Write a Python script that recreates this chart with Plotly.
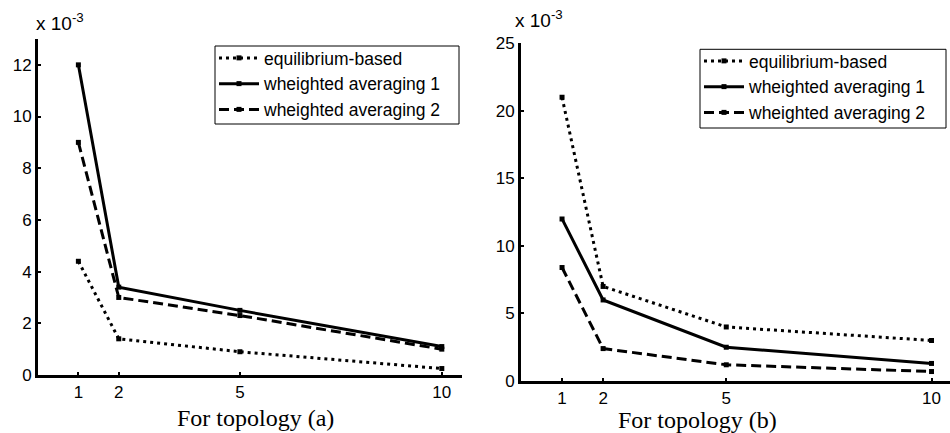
import plotly.graph_objects as go

# ---- data ----
x_vals = [1, 2, 5, 10]
x_ticks = [1, 2, 5, 10]

# topology (a)  (values x 10^-3)
a_equilibrium = [4.4, 1.4, 0.9, 0.25]
a_weighted1 = [12.0, 3.4, 2.5, 1.1]
a_weighted2 = [9.0, 3.0, 2.3, 1.0]

# topology (b)  (values x 10^-3)
b_equilibrium = [21.0, 7.0, 4.0, 3.0]
b_weighted1 = [12.0, 6.0, 2.5, 1.3]
b_weighted2 = [8.4, 2.4, 1.2, 0.7]

series_names = ["equilibrium-based", "wheighted averaging 1", "wheighted averaging 2"]
y_ticks_a = [0, 2, 4, 6, 8, 10, 12]
y_ticks_b = [0, 5, 10, 15, 20, 25]

dashes = ["3px,4px", "solid", "10px,5px"]

fig = go.Figure()

for i, (name, ys) in enumerate(zip(series_names, [a_equilibrium, a_weighted1, a_weighted2])):
    fig.add_trace(go.Scatter(
        x=x_vals, y=ys, name=name, mode="lines+markers",
        line=dict(color="black", width=3, dash=dashes[i]),
        marker=dict(symbol="square", size=5, color="black"),
        xaxis="x", yaxis="y", legend="legend",
    ))

for i, (name, ys) in enumerate(zip(series_names, [b_equilibrium, b_weighted1, b_weighted2])):
    fig.add_trace(go.Scatter(
        x=x_vals, y=ys, name=name, mode="lines+markers",
        line=dict(color="black", width=3, dash=dashes[i]),
        marker=dict(symbol="square", size=5, color="black"),
        xaxis="x2", yaxis="y2", legend="legend2",
    ))

axis_common = dict(
    showgrid=False, zeroline=False, showline=True, linecolor="black", linewidth=3,
    ticks="inside", ticklen=3, tickwidth=2, tickcolor="black",
    tickfont=dict(family="Liberation Sans, Arial, sans-serif", size=17, color="black"),
    automargin=False,
)

legend_common = dict(
    bgcolor="rgba(0,0,0,0)", borderwidth=0,
    font=dict(family="Liberation Sans, Arial, sans-serif", size=17.5, color="black"),
    xanchor="left", yanchor="top", tracegroupgap=0, itemwidth=40,
)

def px_x(p):
    return p / 950

def px_y(p):
    return 1 - p / 433

fig.update_layout(
    width=950, height=433,
    margin=dict(l=0, r=0, t=0, b=0),
    template="none",
    paper_bgcolor="white", plot_bgcolor="white",
    showlegend=True,
    xaxis=dict(domain=[px_x(38), px_x(462)], range=[0, 10.5], tickvals=x_ticks,
               anchor="y", **axis_common),
    yaxis=dict(domain=[px_y(375), px_y(39)], range=[0, 13], tickvals=y_ticks_a,
               anchor="x", **axis_common),
    xaxis2=dict(domain=[px_x(521), 1.0], range=[0, 10.45], tickvals=x_ticks,
                anchor="y2", **axis_common),
    yaxis2=dict(domain=[px_y(381), px_y(43.3)], range=[0, 25], tickvals=y_ticks_b,
                anchor="x2", **axis_common),
    legend=dict(x=px_x(214), y=px_y(40), **legend_common),
    legend2=dict(x=px_x(699), y=px_y(43), **legend_common),
    shapes=[
        dict(type="rect", xref="paper", yref="paper",
             x0=px_x(215), x1=px_x(459), y0=px_y(124), y1=px_y(46),
             line=dict(color="black", width=1), fillcolor="rgba(0,0,0,0)", layer="above"),
        dict(type="rect", xref="paper", yref="paper",
             x0=px_x(700), x1=px_x(946), y0=px_y(128), y1=px_y(49.3),
             line=dict(color="black", width=1), fillcolor="rgba(0,0,0,0)", layer="above"),
    ],
    annotations=[
        dict(text="x 10<sup>-3</sup>", x=px_x(34), y=px_y(22), xref="paper", yref="paper",
             xanchor="left", yanchor="middle", showarrow=False,
             font=dict(family="Liberation Sans, Arial, sans-serif", size=19, color="black")),
        dict(text="x 10<sup>-3</sup>", x=px_x(513), y=px_y(19), xref="paper", yref="paper",
             xanchor="left", yanchor="middle", showarrow=False,
             font=dict(family="Liberation Sans, Arial, sans-serif", size=19, color="black")),
        dict(text="For topology (a)", x=px_x(255), y=px_y(418), xref="paper", yref="paper",
             xanchor="center", yanchor="middle", showarrow=False,
             font=dict(family="Liberation Serif, Times New Roman, serif", size=24, color="black")),
        dict(text="For topology (b)", x=px_x(697), y=px_y(420), xref="paper", yref="paper",
             xanchor="center", yanchor="middle", showarrow=False,
             font=dict(family="Liberation Serif, Times New Roman, serif", size=24, color="black")),
    ],
)

fig.write_html(
    "out.html",
    config={"displayModeBar": False},
    post_script="document.body.style.margin='0';document.body.style.padding='0';document.body.style.overflow='hidden';",
)
